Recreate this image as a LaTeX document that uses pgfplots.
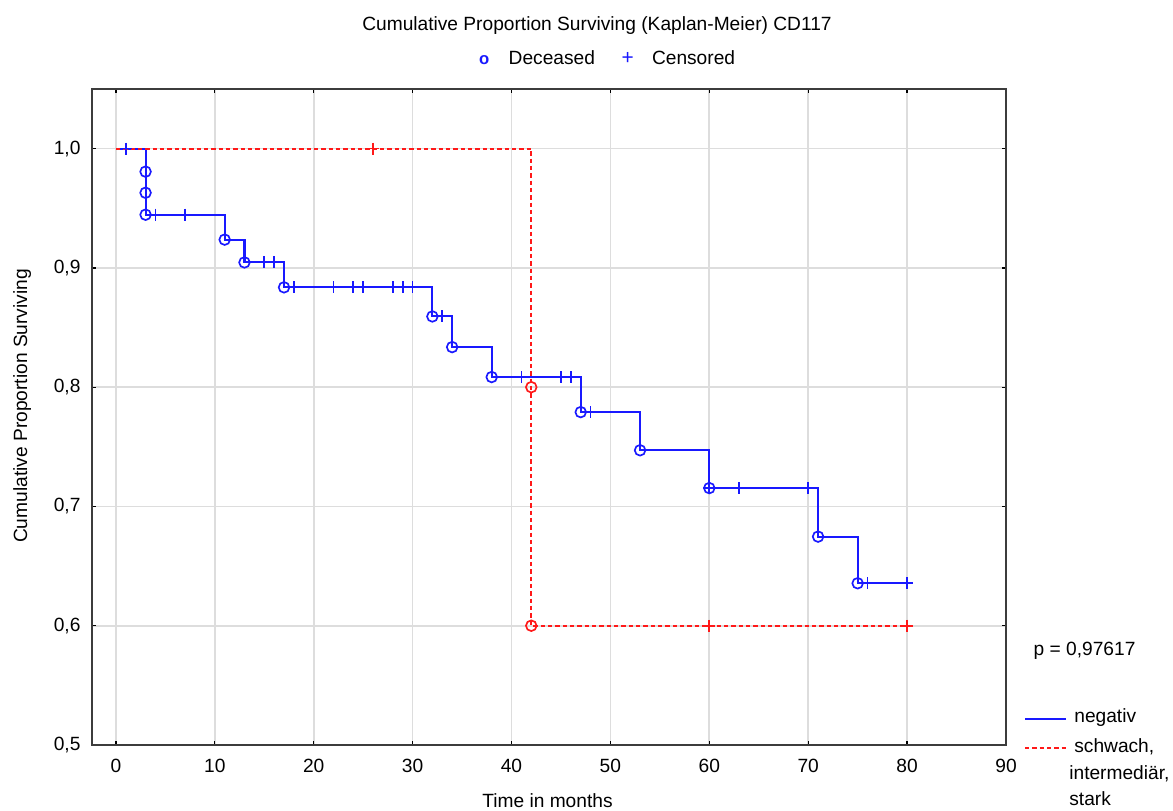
\documentclass[border=0pt]{standalone}
\usepackage{fontspec}
\setmainfont{Liberation Sans}
\usepackage{pgfplots}
\pgfplotsset{compat=1.18}
\definecolor{gridgray}{RGB}{221,221,221}
\definecolor{axgray}{RGB}{60,60,60}
\definecolor{kmblue}{RGB}{25,25,255}
\definecolor{kmred}{RGB}{255,25,25}
\newcommand{\lbl}{\fontsize{11.5}{13.8}\selectfont}

\begin{document}
\begin{tikzpicture}
\path[use as bounding box] (0,0) rectangle (703.8pt,486.6pt);
\begin{axis}[
  at={(55.0pt,39.6pt)}, anchor=south west, scale only axis,
  width=548.6pt, height=393.6pt,
  xmin=-2.45, xmax=90, ymin=0.5, ymax=1.05,
  xtick={0,10,20,30,40,50,60,70,80,90},
  xticklabels={0,10,20,30,40,50,60,70,80,90},
  ytick={0.5,0.6,0.7,0.8,0.9,1.0},
  yticklabels={{0,5},{0,6},{0,7},{0,8},{0,9},{1,0}},
  grid=major, major grid style={gridgray, line width=1pt},
  axis line style={axgray, line width=1.2pt},
  tick align=inside, tick pos=both, major tick length=2.5pt,
  tick style={black, line width=0.8pt},
  xticklabel style={font=\lbl}, yticklabel style={font=\lbl},
  xticklabel shift=5pt, yticklabel shift=3.2pt,
  clip=false,
]
% negativ: step curve
\addplot[kmblue, line width=1.25pt, const plot] coordinates {
 (0,1) (3,0.9446) (11,0.9237) (13,0.9046) (17,0.8837) (32,0.8593) (34,0.8336)
 (38,0.8085) (47,0.7791) (53,0.7471) (60,0.7154) (71,0.6747) (75,0.6356) (80,0.6356)};
% schwach, intermediaer, stark: step curve
\addplot[kmred, line width=1.25pt, const plot, dash pattern=on 2.6pt off 1.8pt] coordinates {
 (0,1) (42,0.6) (80,0.6)};
% negativ: deceased
\addplot[kmblue, only marks, mark=o, mark size=3.2pt, mark options={line width=1pt, solid}] coordinates {
 (3,0.9807) (3,0.963) (3,0.9446) (11,0.9237) (13,0.9046) (17,0.8837) (32,0.8593) (34,0.8336)
 (38,0.8085) (47,0.7791) (53,0.7471) (60,0.7154) (71,0.6747) (75,0.6356)};
% negativ: censored
\addplot[kmblue, only marks, mark=+, mark size=3.6pt, mark options={line width=1pt, solid}] coordinates {
 (1,1) (4,0.9446) (7,0.9446) (15,0.9046) (16,0.9046) (18,0.8837) (22,0.8837) (24,0.8837)
 (25,0.8837) (28,0.8837) (29,0.8837) (30,0.8837) (33,0.8593) (41,0.8085) (45,0.8085)
 (46,0.8085) (48,0.7791) (60,0.7154) (63,0.7154) (70,0.7154) (76,0.6356) (80,0.6356)};
% red: deceased
\addplot[kmred, only marks, mark=o, mark size=3.2pt, mark options={line width=1pt, solid}] coordinates {
 (42,0.8) (42,0.6)};
% red: censored
\addplot[kmred, only marks, mark=+, mark size=3.6pt, mark options={line width=1pt, solid}] coordinates {
 (26,1) (60,0.6) (80,0.6)};
\end{axis}
% title and top legend
\node[anchor=base, font=\lbl, inner sep=0pt] at (358.2pt,468.3pt) {Cumulative Proportion Surviving (Kaplan-Meier) CD117};
\node[anchor=base, font=\lbl, inner sep=0pt, text=kmblue] at (290.6pt,447.6pt) {\fontsize{10}{11}\selectfont\bfseries o};
\node[anchor=base, font=\lbl, inner sep=0pt, text=kmblue] at (376.6pt,447.6pt) {\fontsize{12.5}{13}\selectfont +};
\node[anchor=base west, font=\lbl, inner sep=0pt] at (305.0pt,447.6pt) {Deceased};
\node[anchor=base west, font=\lbl, inner sep=0pt] at (391.0pt,447.6pt) {Censored};
% axis labels
\node[anchor=base, font=\lbl, inner sep=0pt] at (328.5pt,1.8pt) {Time in months};
\node[anchor=base, rotate=90, font=\lbl, inner sep=0pt] at (16.2pt,243pt) {Cumulative Proportion Surviving};
% p value and group legend
\node[anchor=base west, font=\lbl, inner sep=0pt] at (620.0pt,93.0pt) {p = 0,97617};
\draw[kmblue, line width=1.25pt] (615pt,55.0pt) -- (639.4pt,55.0pt);
\node[anchor=base west, font=\lbl, inner sep=0pt] at (644.4pt,52.8pt) {negativ};
\draw[kmred, line width=1.25pt, dash pattern=on 2.6pt off 1.8pt] (615pt,38.0pt) -- (639.4pt,38.0pt);
\node[anchor=base west, font=\lbl, inner sep=0pt] at (644.4pt,35.2pt) {schwach,};
\node[anchor=base west, font=\lbl, inner sep=0pt] at (641.4pt,19.0pt) {intermediär,};
\node[anchor=base west, font=\lbl, inner sep=0pt] at (641.4pt,3.2pt) {stark};
\end{tikzpicture}
\end{document}
